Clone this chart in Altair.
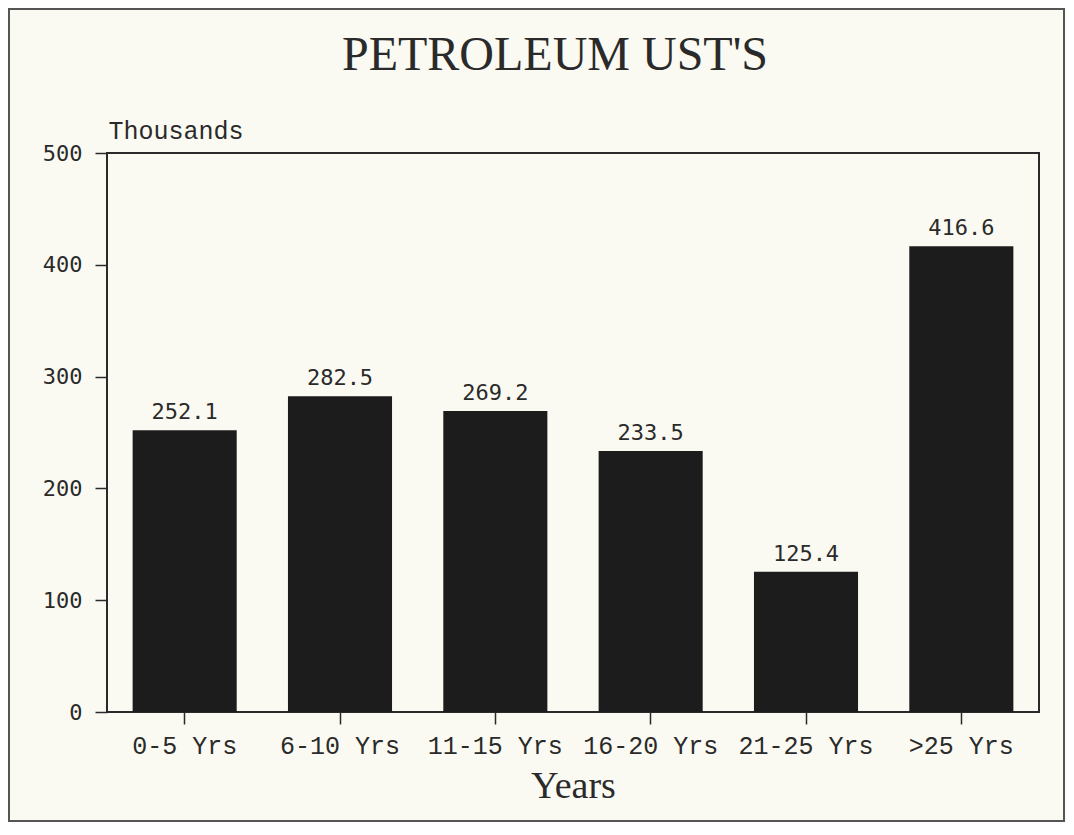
import altair as alt
import pandas as pd

categories = ["0-5 Yrs", "6-10 Yrs", "11-15 Yrs", "16-20 Yrs", "21-25 Yrs", ">25 Yrs"]
values = [252.1, 282.5, 269.2, 233.5, 125.4, 416.6]
value_labels = ["252.1", "282.5", "269.2", "233.5", "125.4", "416.6"]
y_ticks = [0, 100, 200, 300, 400, 500]
chart_title = "PETROLEUM UST'S"

df = pd.DataFrame({"cat": categories, "val": values, "lab": value_labels})

W, H = 932, 559
BG = "#fafaf2"
INK = "#2a2a2a"
BAR = "#1c1c1c"

x_enc = alt.X(
    "cat:N",
    sort=categories,
    scale=alt.Scale(paddingInner=0.33, paddingOuter=0.165),
    axis=alt.Axis(
        title="Years",
        labelAngle=0,
        labelFont="Liberation Mono",
        labelFontSize=25,
        labelColor=INK,
        labelBaseline="alphabetic",
        labelPadding=29,
        ticks=True,
        tickSize=12,
        tickColor=INK,
        tickWidth=1.5,
        domain=False,
        titleFont="Liberation Serif",
        titleFontSize=38,
        titleFontWeight="normal",
        titleColor=INK,
        titleBaseline="alphabetic",
        titleY=85,
    ),
)

y_enc = alt.Y(
    "val:Q",
    scale=alt.Scale(domain=[0, 500], nice=False),
    axis=alt.Axis(
        title="Thousands",
        values=y_ticks,
        titleAngle=0,
        titleAlign="left",
        titleBaseline="alphabetic",
        titleX=1,
        titleY=-15,
        titleFont="Liberation Mono",
        titleFontSize=25,
        titleFontWeight="normal",
        titleColor=INK,
        labelFont="DejaVu Sans Mono",
        labelFontSize=22,
        labelColor=INK,
        labelPadding=13,
        tickSize=12,
        tickColor=INK,
        tickWidth=1.5,
        domain=False,
        grid=False,
    ),
)

bars = alt.Chart(df).mark_bar(color=BAR).encode(x=x_enc, y=y_enc)

texts = alt.Chart(df).mark_text(
    dy=-11, baseline="alphabetic", font="DejaVu Sans Mono", fontSize=22, color=INK
).encode(x=alt.X("cat:N", sort=categories), y="val:Q", text="lab:N")

one_row = alt.Data(values=[{"f": 1}])

frame = alt.Chart(one_row).mark_rect(
    filled=False, stroke="#555555", strokeWidth=2
).encode(
    x=alt.value(-98), x2=alt.value(957), y=alt.value(-144), y2=alt.value(668)
)

title_mark = alt.Chart(one_row).mark_text(
    font="Liberation Serif", fontSize=48, fontWeight="normal", color=INK,
    align="center", baseline="alphabetic"
).encode(x=alt.value(448), y=alt.value(-83), text=alt.value(chart_title))

chart = alt.layer(bars, texts, frame, title_mark).properties(
    width=W,
    height=H,
    autosize=alt.AutoSizeParams(type="none"),
    padding={"left": 99, "top": 145, "right": 27, "bottom": 110},
).configure(background=BG).configure_view(stroke=INK, strokeWidth=2, fill=BG)

chart.save("out.html", embed_options={"renderer": "svg", "actions": False})
